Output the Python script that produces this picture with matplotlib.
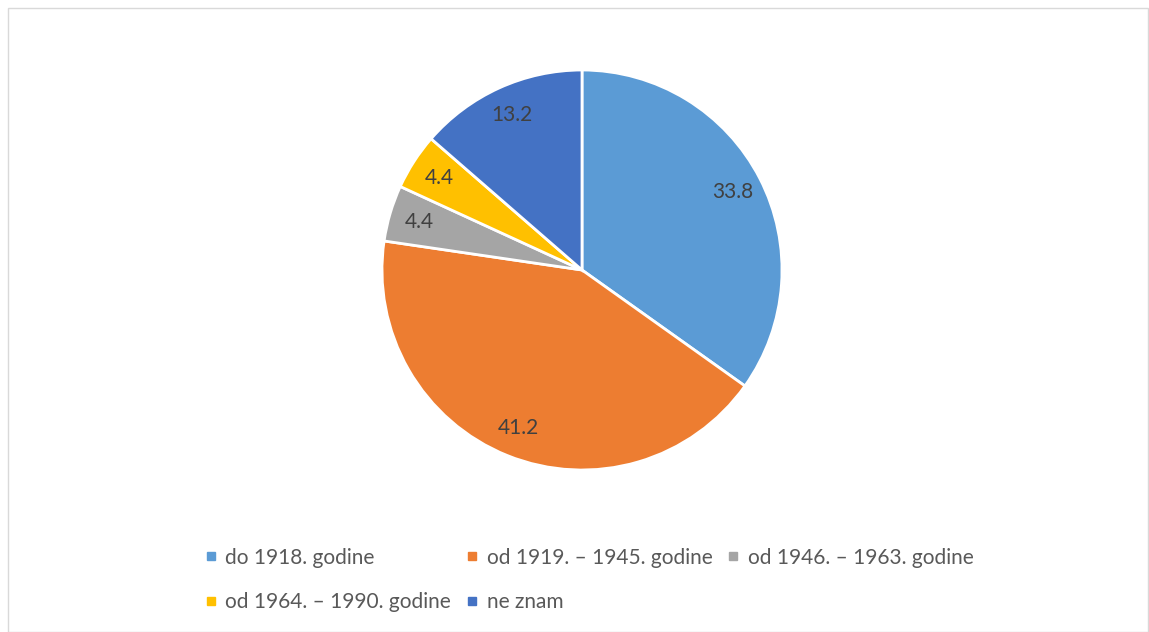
import matplotlib.pyplot as plt
from matplotlib.lines import Line2D
from matplotlib.patches import Rectangle

# Data
categories = ['do 1918. godine', 'od 1919. – 1945. godine', 'od 1946. – 1963. godine',
              'od 1964. – 1990. godine', 'ne znam']
values = [33.8, 41.2, 4.4, 4.4, 13.2]
colors = ['#5B9BD5', '#ED7D31', '#A5A5A5', '#FFC000', '#4472C4']

plt.rcParams['font.family'] = ['Lato', 'DejaVu Sans']

fig = plt.figure(figsize=(11.49, 6.32), dpi=100)
W, H = 1149, 632

# chart border
fig.patches.append(Rectangle((8 / W, 0), 1 - 8 / W - 0.001, 1 - 8 / H, transform=fig.transFigure,
                             fill=False, edgecolor='#D9D9D9', linewidth=1))

# Pie axes: center (582, 270), radius 200 px
ax = fig.add_axes([(582 - 200) / W, 1 - 470 / H, 400 / W, 400 / H])

labels_iter = iter(values)
wedges, texts, autotexts = ax.pie(
    values, colors=colors, startangle=90, counterclock=False,
    autopct=lambda p: f'{next(labels_iter):.1f}', pctdistance=0.85,
    wedgeprops=dict(edgecolor='white', linewidth=2),
    textprops=dict(color='#404040', fontsize=15))
ax.set_xlim(-1, 1)
ax.set_ylim(-1, 1)
ax.set_aspect('equal')

# Legend, row-major order in 3 columns
handles = [Line2D([], [], marker='s', linestyle='none', markersize=6,
                  markerfacecolor=c, markeredgecolor=c) for c in colors]
order = [0, 3, 1, 4, 2]
fig.legend([handles[i] for i in order], [categories[i] for i in order],
           ncol=3, loc='center', bbox_to_anchor=(589 / W, 1 - 580 / H),
           frameon=False, fontsize=15, labelcolor='#595959',
           handlelength=0.6, handletextpad=0.4, columnspacing=0.7,
           labelspacing=1.2)

fig.savefig('out.png', dpi=100)
